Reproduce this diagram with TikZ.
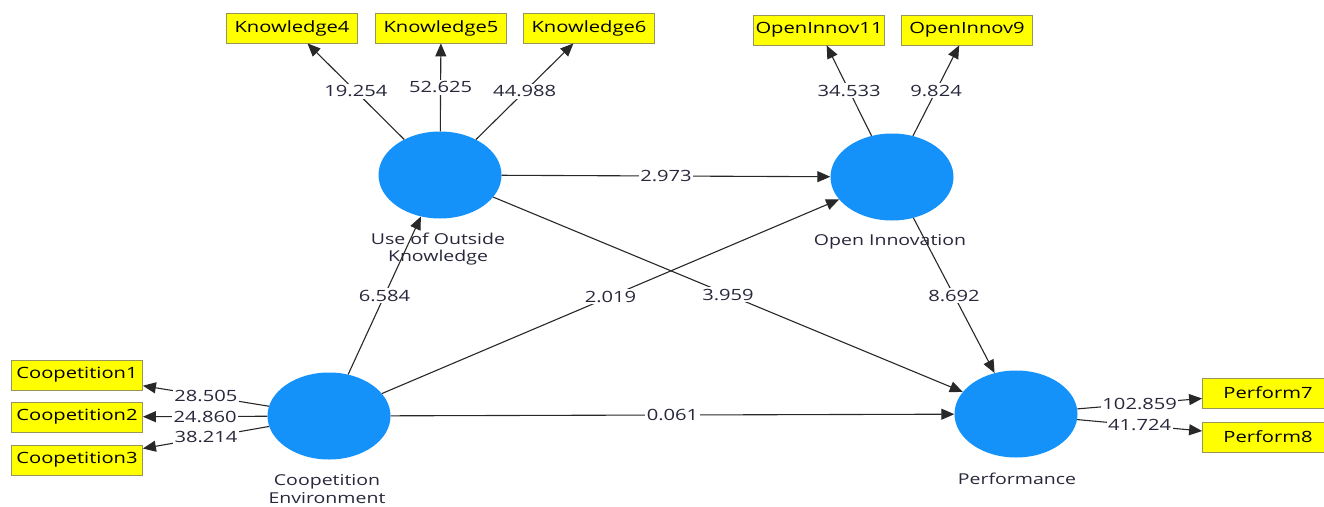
\documentclass[tikz,border=0pt]{standalone}
\usepackage{fontspec}
\setmainfont[FakeStretch=1.3]{Open Sans}
\usetikzlibrary{arrows.meta,shapes.geometric}
\definecolor{lvblue}{RGB}{20,146,250}
\definecolor{indyellow}{RGB}{255,255,0}
\definecolor{indborder}{RGB}{150,150,90}
\definecolor{linegray}{RGB}{40,40,40}
\definecolor{txt}{RGB}{40,40,60}
\tikzset{
  latent/.style={ellipse, fill=lvblue, minimum width=123pt, minimum height=87pt, inner sep=0pt},
  indic/.style={rectangle, fill=indyellow, draw=indborder, line width=0.8pt, minimum width=131pt, minimum height=30pt, inner sep=0pt, font=\fontsize{15.5}{17}\selectfont, text=black},
  lvlabel/.style={font=\fontsize{15}{17.5}\selectfont, text=txt, align=center},
  conn/.style={draw=linegray, line width=1.1pt, -{Triangle[length=13pt,width=11pt]}},
  wt/.style={fill=white, inner sep=1.5pt, font=\fontsize{15.5}{17}\selectfont, text=txt, pos=0.5}
}
\begin{document}
\begin{tikzpicture}[x=1pt,y=-1pt]
\clip (0,0) rectangle (1324,506);
\fill[white] (0,0) rectangle (1324,506);
% latent variables
\node[latent] (uok) at (440,175) {};
\node[latent] (oi) at (892,177) {};
\node[latent] (coop) at (329,416) {};
\node[latent] (perf) at (1016,414) {};
\node[lvlabel] (uokl) at (438,249) {Use of Outside\\Knowledge};
\node[lvlabel] (oil) at (890,242) {Open Innovation};
\node[lvlabel] (coopl) at (327,489) {Coopetition\\Environment};
\node[lvlabel] (perfl) at (1017,479) {Performance};
% indicators
\node[indic] (k4) at (292,28) {Knowledge4};
\node[indic] (k5) at (441,28) {Knowledge5};
\node[indic] (k6) at (589,28) {Knowledge6};
\node[indic] (oi11) at (819,30) {OpenInnov11};
\node[indic] (oi9) at (967,30) {OpenInnov9};
\node[indic] (c1) at (77,375) {Coopetition1};
\node[indic] (c2) at (77,417) {Coopetition2};
\node[indic] (c3) at (77,460) {Coopetition3};
\node[indic] (p7) at (1268,393) {Perform7};
\node[indic] (p8) at (1268,437) {Perform8};
% outer loadings
\draw[conn] (uok) -- node[wt] {19.254} (k4);
\draw[conn] (uok) -- node[wt] {52.625} (k5);
\draw[conn] (uok) -- node[wt] {44.988} (k6);
\draw[conn] (oi) -- node[wt] {34.533} (oi11);
\draw[conn] (oi) -- node[wt] {9.824} (oi9);
\draw[conn] (coop) -- node[wt] {28.505} (c1);
\draw[conn] (coop) -- node[wt] {24.860} (c2);
\draw[conn] (coop) -- node[wt] {38.214} (c3);
\draw[conn] (perf) -- node[wt] {102.859} (p7);
\draw[conn] (perf) -- node[wt] {41.724} (p8);
% structural paths
\draw[conn] (uok) -- node[wt] {2.973} (oi);
\draw[conn] (uok) -- node[wt] {3.959} (perf);
\draw[conn] (coop) -- node[wt] {6.584} (uok);
\draw[conn] (coop) -- node[wt] {2.019} (oi);
\draw[conn] (coop) -- node[wt] {0.061} (perf);
\draw[conn] (oi) -- node[wt] {8.692} (perf);
\end{tikzpicture}
\end{document}
